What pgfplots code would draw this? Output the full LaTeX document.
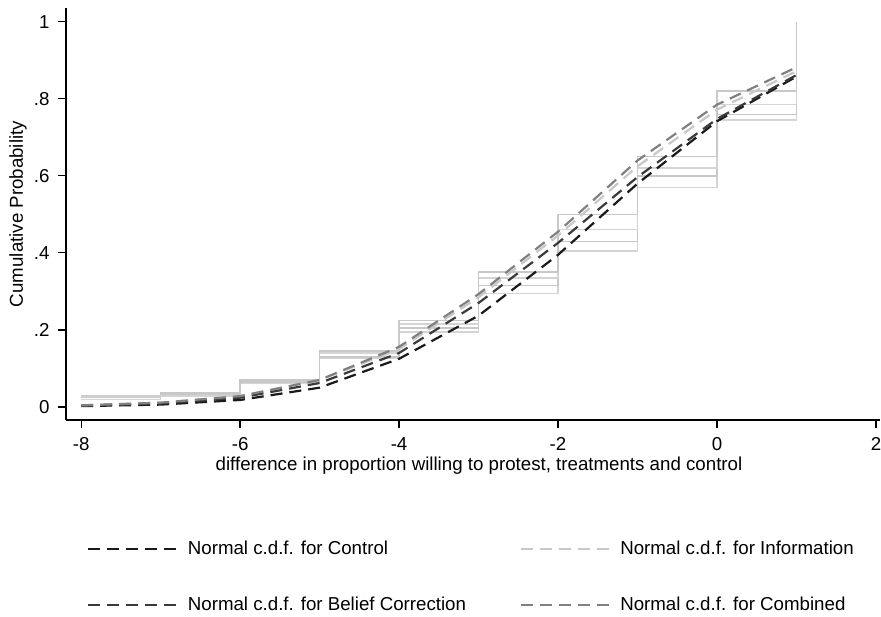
\documentclass[border=0pt]{standalone}
\usepackage{pgfplots}
\pgfplotsset{compat=1.18}
\usepackage{fontspec}
\setmainfont{Liberation Sans}

\definecolor{ctrl}{HTML}{1A1A1A}
\definecolor{belief}{HTML}{3A3A3A}
\definecolor{info}{HTML}{C8C8C8}
\definecolor{comb}{HTML}{808080}
\definecolor{stepa}{HTML}{D4D4D4}
\definecolor{stepb}{HTML}{C8C8C8}

\begin{document}
\fontsize{18.7}{22}\selectfont
\begin{tikzpicture}
  % fix the page to the reference's frame (1pt = 1px)
  \path[use as bounding box] (-66pt,-196pt) rectangle (815pt,412pt+8pt);
  \begin{axis}[
      at={(0,0)}, anchor=south west,
      scale only axis, width=814pt, height=412pt,
      xmin=-8.19, xmax=2.05, ymin=-0.034, ymax=1.036,
      axis x line*=bottom, axis y line*=left,
      axis line style={line width=1.2pt, -},
      xtick={-8,-6,-4,-2,0,2}, xticklabels={-8,-6,-4,-2,0,2},
      ytick={0,0.2,0.4,0.6,0.8,1}, yticklabels={0,.2,.4,.6,.8,1},
      tick style={line width=1.2pt, black},
      tick align=outside, major tick length=8pt,
      ticklabel style={font=\fontsize{18.7}{22}\selectfont},
      yticklabel style={xshift=-2pt},
      xticklabel style={yshift=-3pt},
      xlabel={difference in proportion willing to protest, treatments and control},
      ylabel={Cumulative Probability},
      every axis x label/.style={at={(axis description cs:0.5,0)}, anchor=center, yshift=-46pt, xshift=6pt},
      every axis y label/.style={at={(axis description cs:0,0.5)}, xshift=-48pt, anchor=center, rotate=90},
      legend columns=2,
      legend cell align=left,
      legend style={at={(axis description cs:0,0)}, anchor=north west,
        xshift=18pt, yshift=-117pt, draw=none, fill=none,
        font=\fontsize{18.7}{22}\selectfont,
        row sep=35pt,
        nodes={inner xsep=6.5pt},
        /tikz/every even column/.append style={column sep=47pt}},
      legend image code/.code={\draw[#1] (0pt,0pt) -- (92pt,0pt);},
      clip=false,
    ]
    % empirical step functions
    \addplot[const plot, stepa, line width=1.4pt, forget plot] coordinates {
      (-8,0.020) (-7,0.028) (-6,0.062) (-5,0.125) (-4,0.195) (-3,0.295) (-2,0.405) (-1,0.570) (0,0.745) (1,1)};
    \addplot[const plot, stepb, line width=1.4pt, forget plot] coordinates {
      (-8,0.025) (-7,0.032) (-6,0.065) (-5,0.130) (-4,0.205) (-3,0.315) (-2,0.430) (-1,0.600) (0,0.760) (1,1)};
    \addplot[const plot, stepa, line width=1.4pt, forget plot] coordinates {
      (-8,0.028) (-7,0.035) (-6,0.068) (-5,0.140) (-4,0.215) (-3,0.335) (-2,0.460) (-1,0.620) (0,0.785) (1,1)};
    \addplot[const plot, stepb, line width=1.4pt, forget plot] coordinates {
      (-8,0.030) (-7,0.036) (-6,0.070) (-5,0.145) (-4,0.225) (-3,0.350) (-2,0.500) (-1,0.650) (0,0.820) (1,1)};
    % normal c.d.f.s
    \addplot[ctrl, line width=2.2pt, dash pattern=on 12pt off 7pt] coordinates {
      (-8,0.002) (-7,0.006) (-6,0.018) (-5,0.050) (-4,0.125) (-3,0.237) (-2,0.395) (-1,0.580) (0,0.742) (1,0.858)};
    \addlegendentry{Normal c.d.f. for Control}
    \addplot[info, line width=2.2pt, dash pattern=on 12pt off 7pt] coordinates {
      (-8,0.004) (-7,0.011) (-6,0.028) (-5,0.070) (-4,0.150) (-3,0.285) (-2,0.445) (-1,0.625) (0,0.772) (1,0.872)};
    \addlegendentry{Normal c.d.f. for Information}
    \addplot[belief, line width=2.2pt, dash pattern=on 12pt off 7pt] coordinates {
      (-8,0.003) (-7,0.009) (-6,0.024) (-5,0.062) (-4,0.140) (-3,0.270) (-2,0.426) (-1,0.597) (0,0.748) (1,0.862)};
    \addlegendentry{Normal c.d.f. for Belief Correction}
    \addplot[comb, line width=2.2pt, dash pattern=on 12pt off 7pt] coordinates {
      (-8,0.004) (-7,0.011) (-6,0.028) (-5,0.070) (-4,0.156) (-3,0.293) (-2,0.455) (-1,0.640) (0,0.785) (1,0.882)};
    \addlegendentry{Normal c.d.f. for Combined}
  \end{axis}
\end{tikzpicture}
\end{document}
